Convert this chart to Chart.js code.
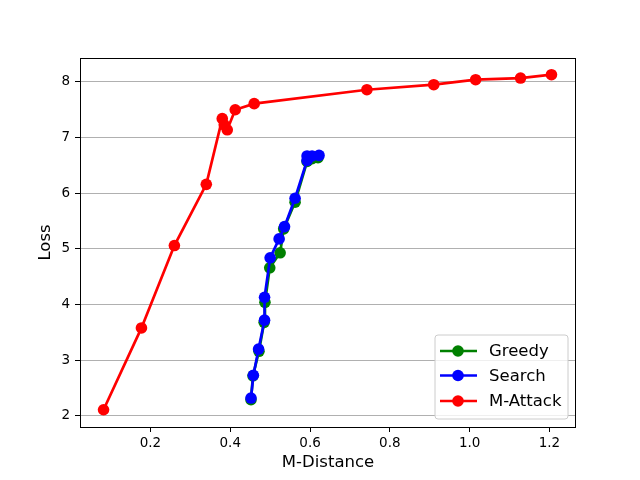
<!DOCTYPE html>
<html>
<head>
<meta charset="utf-8">
<script src="https://cdn.jsdelivr.net/npm/chart.js@4"></script>
<style>
  html, body { margin: 0; padding: 0; background: #ffffff; }
  #wrap { width: 640px; height: 480px; }
</style>
</head>
<body>
<div id="wrap"><canvas id="c" width="640" height="480"></canvas></div>
<script>
const seriesNames = ['Greedy', 'Search', 'M-Attack'];
const seriesColors = ['#008000', '#0000ff', '#ff0000'];

const greedyX = [0.452, 0.457, 0.472, 0.485, 0.487, 0.499, 0.525, 0.534, 0.5625, 0.5925, 0.605, 0.620];
const greedyY = [2.29, 2.72, 3.16, 3.68, 4.04, 4.66, 4.93, 5.36, 5.84, 6.57, 6.62, 6.64];

const searchX = [0.452, 0.458, 0.471, 0.486, 0.486, 0.500, 0.5225, 0.536, 0.5625, 0.5925, 0.5925, 0.605, 0.6225];
const searchY = [2.32, 2.73, 3.20, 3.72, 4.13, 4.84, 5.18, 5.40, 5.91, 6.59, 6.67, 6.67, 6.68];

const attackX = [0.0825, 0.1775, 0.260, 0.340, 0.380, 0.385, 0.3925, 0.4125, 0.460, 0.7425, 0.910, 1.015, 1.1275, 1.205];
const attackY = [2.11, 3.58, 5.06, 6.16, 7.34, 7.23, 7.14, 7.50, 7.61, 7.86, 7.95, 8.04, 8.07, 8.13];

const xTicks = [0.2, 0.4, 0.6, 0.8, 1.0, 1.2];
const yTicks = [2, 3, 4, 5, 6, 7, 8];

const xLabel = 'M-Distance';
const yLabel = 'Loss';

function toPoints(xs, ys) { return xs.map((x, i) => ({ x: x, y: ys[i] })); }

const FONT = 'DejaVu Sans';

function makeDataset(i, xs, ys, order) {
  return {
    label: seriesNames[i],
    data: toPoints(xs, ys),
    showLine: true,
    borderColor: seriesColors[i],
    backgroundColor: seriesColors[i],
    borderWidth: 2.7,
    pointRadius: 5.8,
    pointHoverRadius: 5.8,
    pointBorderWidth: 0,
    pointBackgroundColor: seriesColors[i],
    tension: 0,
    order: order
  };
}

const framePlugin = {
  id: 'frame',
  afterDatasetsDraw(chart) {
    const { ctx, chartArea: a } = chart;
    ctx.save();
    ctx.strokeStyle = '#000000';
    ctx.lineWidth = 1;
    ctx.strokeRect(Math.round(a.left) + 0.5, Math.round(a.top) + 0.5,
                   Math.round(a.right - a.left) - 1, Math.round(a.bottom - a.top));
    ctx.restore();
  },
  afterDraw(chart) {
    const { ctx, chartArea: a } = chart;
    const boxW = 133, boxH = 84;
    const bx = a.right - 8 - boxW;
    const by = a.bottom - 8 - boxH;
    ctx.save();
    const r = 3;
    ctx.beginPath();
    ctx.moveTo(bx + r, by);
    ctx.lineTo(bx + boxW - r, by);
    ctx.arcTo(bx + boxW, by, bx + boxW, by + r, r);
    ctx.lineTo(bx + boxW, by + boxH - r);
    ctx.arcTo(bx + boxW, by + boxH, bx + boxW - r, by + boxH, r);
    ctx.lineTo(bx + r, by + boxH);
    ctx.arcTo(bx, by + boxH, bx, by + boxH - r, r);
    ctx.lineTo(bx, by + r);
    ctx.arcTo(bx, by, bx + r, by, r);
    ctx.closePath();
    ctx.fillStyle = 'rgba(255,255,255,0.8)';
    ctx.fill();
    ctx.strokeStyle = '#cccccc';
    ctx.lineWidth = 1;
    ctx.stroke();

    const rows = [by + 16, by + 40.5, by + 66];
    ctx.font = '16.5px "' + FONT + '"';
    ctx.textBaseline = 'middle';
    ctx.textAlign = 'left';
    for (let i = 0; i < seriesNames.length; i++) {
      const y = rows[i];
      ctx.strokeStyle = seriesColors[i];
      ctx.lineWidth = 2.7;
      ctx.beginPath();
      ctx.moveTo(bx + 5, y);
      ctx.lineTo(bx + 42, y);
      ctx.stroke();
      ctx.fillStyle = seriesColors[i];
      ctx.beginPath();
      ctx.arc(bx + 23, y, 5.8, 0, Math.PI * 2);
      ctx.fill();
      ctx.fillStyle = '#000000';
      ctx.fillText(seriesNames[i], bx + 54, y + 1);
    }
    ctx.restore();
  }
};

new Chart(document.getElementById('c'), {
  type: 'scatter',
  data: {
    datasets: [
      makeDataset(0, greedyX, greedyY, 2),
      makeDataset(1, searchX, searchY, 1),
      makeDataset(2, attackX, attackY, 0)
    ]
  },
  options: {
    responsive: false,
    animation: false,
    events: [],
    layout: { padding: { left: 0, right: 64, top: 58, bottom: 0 } },
    plugins: {
      legend: { display: false },
      tooltip: { enabled: false },
      title: { display: false }
    },
    scales: {
      x: {
        type: 'linear',
        min: 0.0235,
        max: 1.2665,
        afterBuildTicks(scale) { scale.ticks = xTicks.map(v => ({ value: v })); },
        afterFit(scale) { scale.height = 53; },
        border: { display: false },
        grid: {
          drawOnChartArea: false,
          drawTicks: true,
          tickLength: 5,
          tickColor: '#000000',
          tickWidth: 1
        },
        ticks: {
          color: '#000000',
          font: { family: FONT, size: 13.5 },
          padding: 3,
          maxRotation: 0,
          callback: v => v.toFixed(1)
        },
        title: {
          display: true,
          text: xLabel,
          color: '#000000',
          font: { family: FONT, size: 16.5 },
          padding: { top: 0, bottom: 7 }
        }
      },
      y: {
        type: 'linear',
        min: 1.8,
        max: 8.43,
        afterBuildTicks(scale) { scale.ticks = yTicks.map(v => ({ value: v })); },
        afterFit(scale) { scale.width = 80; },
        border: { display: false },
        grid: {
          drawOnChartArea: true,
          color: '#b0b0b0',
          lineWidth: 1,
          drawTicks: true,
          tickLength: 5,
          tickColor: '#000000',
          tickWidth: 1
        },
        ticks: {
          color: '#000000',
          font: { family: FONT, size: 13.5 },
          padding: 5,
          callback: v => String(v)
        },
        title: {
          display: true,
          text: yLabel,
          color: '#000000',
          font: { family: FONT, size: 16.5 },
          padding: { top: 36, bottom: 0 }
        }
      }
    }
  },
  plugins: [framePlugin]
});
</script>
</body>
</html>
